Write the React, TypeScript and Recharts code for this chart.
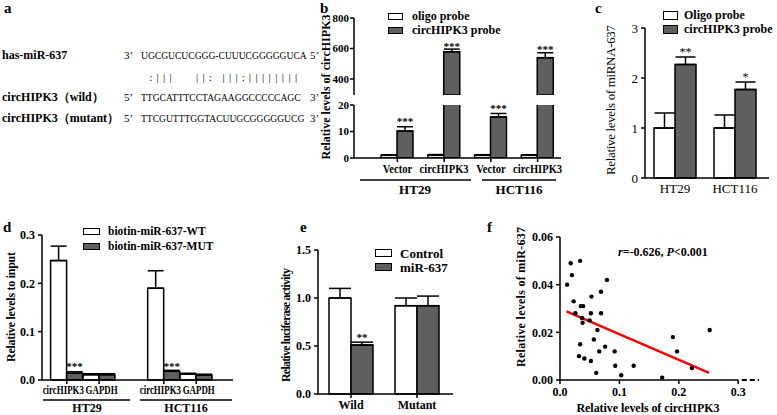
import React from 'react';
import {
  BarChart, Bar, XAxis, YAxis, ErrorBar, LabelList, Legend,
  ScatterChart, Scatter, ReferenceLine,
} from 'recharts';

const FONT = '"Liberation Serif", "Times New Roman", serif';
const GREY = '#5f5f5f';
const INK = '#000';

// a: sequence alignment
const MIR_SEQ = 'UGCGUCUCGGG-CUUUCGGGGGUCA';
const PAIRS = ' :|||   ||: |||:|||||||| ';
const WILD_SEQ = 'TTGCATTTCCTAGAAGGCCCCCAGC';
const MUT_SEQ = 'TTCGUTTTGGTACUUGCGGGGGUCG';

// b: pull-down, broken axis
const B_CATEGORIES = ['Vector', 'circHIPK3', 'Vector', 'circHIPK3'];
const B_OLIGO = [1, 1, 1, 1];
const B_OLIGO_ERR = [0.2, 0.3, 0.25, 0.2];
const B_PROBE = [10.2, 578, 15.5, 540];
const B_PROBE_ERR = [1.6, 18, 1.3, 32];
const B_STARS = ['***', '***', '***', '***'];
const B_BREAK = 295; // bottom of the upper axis segment
const B_LOW_MAX = 20;

// c
const C_GROUPS = ['HT29', 'HCT116'];
const C_OLIGO = [1, 1];
const C_OLIGO_ERR = [0.3, 0.26];
const C_PROBE = [2.27, 1.77];
const C_PROBE_ERR = [0.15, 0.15];
const C_STARS = ['**', '*'];

// d
const D_CATEGORIES = ['circHIPK3', 'GAPDH', '', 'circHIPK3', 'GAPDH'];
const D_WT = [0.247, 0.011, null, 0.19, 0.012];
const D_WT_ERR = [0.03, 0.002, null, 0.036, 0.002];
const D_MUT = [0.014, 0.011, null, 0.018, 0.01];
const D_MUT_ERR = [0.003, 0.002, null, 0.002, 0.002];
const D_STARS = ['***', '', '', '***', ''];

// e
const E_GROUPS = ['Wild', 'Mutant'];
const E_CONTROL = [1.0, 0.92];
const E_CONTROL_ERR = [0.1, 0.08];
const E_MIR = [0.51, 0.92];
const E_MIR_ERR = [0.03, 0.1];
const E_STARS = ['**', ''];

// f: correlation
const F_X = [0.012, 0.018, 0.02, 0.034, 0.023, 0.026, 0.035, 0.039, 0.037, 0.038, 0.053, 0.052,
  0.05, 0.069, 0.079, 0.069, 0.063, 0.057, 0.034, 0.076, 0.066, 0.092, 0.032, 0.041, 0.052,
  0.061, 0.093, 0.103, 0.124, 0.172, 0.19, 0.197, 0.222, 0.252];
const F_Y = [0.04, 0.049, 0.044, 0.05, 0.033, 0.028, 0.031, 0.031, 0.026, 0.024, 0.035, 0.028,
  0.025, 0.037, 0.042, 0.028, 0.021, 0.017, 0.015, 0.014, 0.012, 0.012, 0.01, 0.009, 0.008,
  0.003, 0.006, 0.002, 0.006, 0.001, 0.018, 0.012, 0.005, 0.021];
const F_FIT_X = [0.011, 0.251];
const F_FIT_Y = [0.0288, 0.003];

const bLowData = B_CATEGORIES.map((name, i) => ({
  name,
  oligo: B_OLIGO[i],
  probe: B_PROBE[i],
  oligoErr: [0, B_OLIGO_ERR[i]],
  probeErr: [0, B_PROBE_ERR[i]],
  stars: B_PROBE[i] > B_BREAK ? '' : B_STARS[i],
}));
// upper segment only shows what rises above the break
const bTopData = B_CATEGORIES.map((name, i) => {
  const up = B_PROBE[i] > B_BREAK;
  return {
    name,
    oligo: B_OLIGO[i] > B_BREAK ? B_OLIGO[i] : null,
    probe: up ? B_PROBE[i] : null,
    oligoErr: null,
    probeErr: up ? [0, B_PROBE_ERR[i]] : null,
    stars: up ? B_STARS[i] : '',
  };
});
const cData = C_GROUPS.map((name, i) => ({
  name, oligo: C_OLIGO[i], probe: C_PROBE[i],
  oligoErr: [0, C_OLIGO_ERR[i]], probeErr: [0, C_PROBE_ERR[i]], stars: C_STARS[i],
}));
const dData = D_CATEGORIES.map((name, i) => ({
  name, wt: D_WT[i], mut: D_MUT[i],
  wtErr: D_WT_ERR[i] == null ? null : [0, D_WT_ERR[i]],
  mutErr: D_MUT_ERR[i] == null ? null : [0, D_MUT_ERR[i]],
  stars: D_STARS[i],
}));
const eData = E_GROUPS.map((name, i) => ({
  name, control: E_CONTROL[i], mir: E_MIR[i],
  controlErr: [0, E_CONTROL_ERR[i]], mirErr: [0, E_MIR_ERR[i]], stars: E_STARS[i],
}));
const fData = F_X.map((x, i) => ({ x, y: F_Y[i] }));

// pixels per data unit, from the plot heights used below
const B_TOP_PPU = (95 - 18) / (800 - B_BREAK);
const B_LOW_PPU = (90 - 15 - 22) / B_LOW_MAX;
const C_PPU = (200 - 28 - 22) / 3;
const D_PPU = (200 - 35 - 20) / 0.3;
const E_PPU = (215 - 50 - 21) / 1.5;

const starLabel = (errs: (number | null)[], ppu: number, fs = 11, fw = 'bold') => (props: any) => {
  const vb = props.viewBox || props;
  const { value, index } = props;
  if (!value) return null;
  const err = errs[index] || 0;
  return (
    <text x={vb.x + vb.width / 2} y={vb.y - err * ppu - 1.5} textAnchor="middle"
      fontSize={fs} fontWeight={fw} fill={INK} fontFamily={FONT}>{value}</text>
  );
};

const CatTick = (props: any) => {
  const { x, y, payload, index, fs = 12, fw = 'bold', tl = 4, tg = 2, sx = 1, shifts } = props;
  if (!payload || !payload.value) return null;
  const dx = shifts ? shifts[index] || 0 : 0;
  return (
    <g>
      {tl > 0 && <line x1={x} x2={x} y1={y} y2={y + tl} stroke={INK} strokeWidth={1.5} />}
      <text x={0} y={y + tl + tg + fs * 0.78} textAnchor="middle" fontSize={fs}
        transform={`translate(${x + dx} 0) scale(${sx} 1)`}
        fontWeight={fw} fill={INK} fontFamily={FONT}>{payload.value}</text>
    </g>
  );
};

const Leg = (props: any) => {
  const { payload, bw, bh, rh, fs, gp, order } = props;
  const items = [...(payload || [])].sort(
    (a: any, b: any) => order.indexOf(a.value) - order.indexOf(b.value));
  return (
    <div style={{ fontFamily: FONT }}>
      {items.map((p: any) => (
        <div key={p.value} style={{ display: 'flex', alignItems: 'center', height: rh }}>
          <span style={{
            display: 'inline-block', width: bw, height: bh, background: p.color,
            border: '1.5px solid #000', boxSizing: 'border-box', marginRight: gp,
          }} />
          <span style={{ fontSize: fs, fontWeight: 'bold', color: INK, whiteSpace: 'nowrap', lineHeight: 1 }}>
            {p.value}
          </span>
        </div>
      ))}
    </div>
  );
};

const axisLine = { stroke: INK, strokeWidth: 1.5 };
const yTick = { fill: INK, fontSize: 12, fontWeight: 'bold', fontFamily: FONT };

const at = (left: number, top: number): React.CSSProperties => ({ position: 'absolute', left, top });

const SEQ_X = 141;
const SEQ_W = 165;
const SEQ_SX = 0.87; // the sequences are set in a narrow face

const SeqRow = ({ y, seq }: { y: number; seq: string }) => (
  <text x={0} y={y} fontSize={11} transform={`translate(${SEQ_X} 0) scale(${SEQ_SX} 1)`}>{seq}</text>
);

const Overlay = () => {
  const cw = SEQ_W / PAIRS.length;
  const rot = (x: number, y: number) => `rotate(-90 ${x} ${y})`;
  return (
    <svg width={777} height={415} style={{ position: 'absolute', left: 0, top: 0, pointerEvents: 'none' }}
      fontFamily={FONT} fill={INK}>
      {/* panel letters */}
      <g fontSize={15} fontWeight="bold">
        <text x={4} y={13}>a</text>
        <text x={320} y={13}>b</text>
        <text x={595} y={13}>c</text>
        <text x={3} y={232}>d</text>
        <text x={300} y={232}>e</text>
        <text x={487} y={232}>f</text>
      </g>

      {/* a */}
      <g fontSize={12} fontWeight="bold">
        <text x={2} y={59}>has-miR-637</text>
        <text x={2} y={101}>circHIPK3（wild）</text>
        <text x={2} y={122}>circHIPK3（mutant）</text>
      </g>
      <g fontSize={11}>
        <text x={124} y={59}>3’</text>
        <text x={124} y={101}>5’</text>
        <text x={124} y={122}>5’</text>
        <text x={SEQ_X + SEQ_W + 4} y={59}>5’</text>
        <text x={SEQ_X + SEQ_W + 4} y={101}>3’</text>
        <text x={SEQ_X + SEQ_W + 4} y={122}>3’</text>
        <SeqRow y={59} seq={MIR_SEQ} />
        <SeqRow y={101} seq={WILD_SEQ} />
        <SeqRow y={122} seq={MUT_SEQ} />
        {PAIRS.split('').map((ch, i) => (ch === ' ' ? null : (
          <text key={i} x={SEQ_X + (i + 0.5) * cw} y={81} textAnchor="middle">{ch}</text>
        )))}
      </g>

      {/* b */}
      <text x={327} y={87} transform={rot(327, 87)} textAnchor="middle" dominantBaseline="middle"
        fontSize={12} fontWeight="bold" textLength={145}>Relative levels of circHIPK3</text>
      <line x1={360} x2={471} y1={180} y2={180} stroke={INK} strokeWidth={1.5} />
      <line x1={482} x2={556} y1={180} y2={180} stroke={INK} strokeWidth={1.5} />
      <g fontSize={13} fontWeight="bold" textAnchor="middle">
        <text x={415} y={194}>HT29</text>
        <text x={519} y={194}>HCT116</text>
      </g>

      {/* c */}
      <text x={612} y={100} transform={rot(612, 100)} textAnchor="middle" dominantBaseline="middle"
        fontSize={13} textLength={150}>Relative levels of miRNA-637</text>

      {/* d */}
      <text x={12} y={307} transform={rot(12, 307)} textAnchor="middle" dominantBaseline="middle"
        fontSize={12} fontWeight="bold" textLength={110}>Relative levels to input</text>
      <line x1={43} x2={130} y1={400} y2={400} stroke={INK} strokeWidth={1.5} />
      <line x1={140} x2={232} y1={400} y2={400} stroke={INK} strokeWidth={1.5} />
      <g fontSize={12} fontWeight="bold" textAnchor="middle">
        <text x={87} y={412}>HT29</text>
        <text x={186} y={412}>HCT116</text>
      </g>

      {/* e */}
      <text x={287} y={325} transform={rot(287, 325)} textAnchor="middle" dominantBaseline="middle"
        fontSize={12} fontWeight="bold" textLength={114}>Relative luciferase activity</text>

      {/* f */}
      <text x={522} y={297} transform={rot(522, 297)} textAnchor="middle" dominantBaseline="middle"
        fontSize={12} fontWeight="bold" textLength={140}>Relative levels of miR-637</text>
      <text x={648} y={412} textAnchor="middle" fontSize={12} fontWeight="bold"
        textLength={143}>Relative levels of circHIPK3</text>
      <text x={618} y={256} fontSize={12} fontWeight="bold">
        <tspan fontStyle="italic">r</tspan>=-0.626, <tspan fontStyle="italic">P</tspan>{'<0.001'}
      </text>
    </svg>
  );
};

export default function App() {
  return (
    <div style={{
      position: 'absolute', left: 0, top: 0, width: 777, height: 415,
      background: '#fff', overflow: 'hidden', fontFamily: FONT,
    }}>
      {/* b: upper segment */}
      <div style={at(300, 0)}>
        <BarChart width={265} height={95} data={bTopData} barGap={0}
          margin={{ top: 18, right: 4, bottom: 0, left: 0 }}>
          <XAxis dataKey="name" hide padding={{ left: 20, right: 0 }} />
          <YAxis width={54} domain={[B_BREAK, 800]} ticks={[400, 600, 800]} allowDataOverflow
            axisLine={axisLine} tickLine={axisLine} tickSize={4} tickMargin={1}
            tick={{ ...yTick, fontSize: 11 }} />
          <Legend layout="vertical" verticalAlign="middle" align="center"
            wrapperStyle={{ left: 88, top: 9, width: 'auto' }}
            content={<Leg bw={15} bh={7} rh={14} fs={12} gp={9} order={['oligo probe', 'circHIPK3 probe']} />} />
          <Bar dataKey="oligo" name="oligo probe" fill="#fff" stroke={INK} strokeWidth={1.5}
            barSize={16} isAnimationActive={false}>
            <ErrorBar dataKey="oligoErr" width={8} stroke={INK} strokeWidth={1.5} direction="y" />
          </Bar>
          <Bar dataKey="probe" name="circHIPK3 probe" fill={GREY} stroke={INK} strokeWidth={1.5}
            barSize={16} isAnimationActive={false}>
            <ErrorBar dataKey="probeErr" width={8} stroke={INK} strokeWidth={1.5} direction="y" />
            <LabelList dataKey="stars" content={starLabel(B_PROBE_ERR, B_TOP_PPU)} />
          </Bar>
        </BarChart>
      </div>

      {/* b: lower segment */}
      <div style={at(300, 90)}>
        <BarChart width={265} height={90} data={bLowData} barGap={0}
          margin={{ top: 15, right: 4, bottom: 0, left: 0 }}>
          <XAxis dataKey="name" height={22} interval={0} padding={{ left: 20, right: 0 }}
            axisLine={axisLine} tickLine={false} tickSize={0} tickMargin={0}
            tick={<CatTick fs={12} tl={4} tg={2} sx={0.88} />} />
          <YAxis width={54} domain={[0, B_LOW_MAX]} ticks={[0, 10, 20]} allowDataOverflow
            axisLine={axisLine} tickLine={axisLine} tickSize={4} tickMargin={1}
            tick={{ ...yTick, fontSize: 11 }} />
          <Bar dataKey="oligo" fill="#fff" stroke={INK} strokeWidth={1.5}
            barSize={16} isAnimationActive={false}>
            <ErrorBar dataKey="oligoErr" width={8} stroke={INK} strokeWidth={1.5} direction="y" />
          </Bar>
          <Bar dataKey="probe" fill={GREY} stroke={INK} strokeWidth={1.5}
            barSize={16} isAnimationActive={false}>
            <ErrorBar dataKey="probeErr" width={8} stroke={INK} strokeWidth={1.5} direction="y" />
            <LabelList dataKey="stars" content={starLabel(B_PROBE_ERR, B_LOW_PPU)} />
          </Bar>
        </BarChart>
      </div>

      {/* c */}
      <div style={at(590, 0)}>
        <BarChart width={187} height={200} data={cData} barGap={0}
          margin={{ top: 28, right: 8, bottom: 0, left: 0 }}>
          <XAxis dataKey="name" height={22} interval={0} padding={{ left: 0, right: 4 }}
            axisLine={axisLine} tickLine={false} tickSize={0} tickMargin={0}
            tick={<CatTick fs={13} fw="normal" tl={0} tg={5} />} />
          <YAxis width={55} domain={[0, 3]} ticks={[0, 1, 2, 3]}
            axisLine={axisLine} tickLine={axisLine} tickSize={4} tickMargin={3}
            tick={{ ...yTick, fontSize: 13, fontWeight: 'normal' }} />
          <Legend layout="vertical" verticalAlign="middle" align="center"
            wrapperStyle={{ left: 73, top: 8, width: 'auto' }}
            content={<Leg bw={15} bh={9} rh={14} fs={12} gp={6} order={['Oligo probe', 'circHIPK3 probe']} />} />
          <Bar dataKey="oligo" name="Oligo probe" fill="#fff" stroke={INK} strokeWidth={1.5}
            barSize={21} isAnimationActive={false}>
            <ErrorBar dataKey="oligoErr" width={10} stroke={INK} strokeWidth={1.5} direction="y" />
          </Bar>
          <Bar dataKey="probe" name="circHIPK3 probe" fill={GREY} stroke={INK} strokeWidth={1.5}
            barSize={21} isAnimationActive={false}>
            <ErrorBar dataKey="probeErr" width={10} stroke={INK} strokeWidth={1.5} direction="y" />
            <LabelList dataKey="stars" content={starLabel(C_PROBE_ERR, C_PPU, 12, 'normal')} />
          </Bar>
        </BarChart>
      </div>

      {/* d */}
      <div style={at(0, 200)}>
        <BarChart width={240} height={200} data={dData} barGap={0}
          margin={{ top: 35, right: 7, bottom: 0, left: 0 }}>
          <XAxis dataKey="name" height={20} interval={0} padding={{ left: 8.6, right: 20.6 }}
            axisLine={axisLine} tickLine={false} tickSize={0} tickMargin={0}
            tick={<CatTick fs={12} tl={4} tg={1} sx={0.74} shifts={[-3.5, 2.5, 0, -3.5, 2.5]} />} />
          <YAxis width={42} domain={[0, 0.3]} ticks={[0, 0.1, 0.2, 0.3]}
            tickFormatter={(v: number) => v.toFixed(1)}
            axisLine={axisLine} tickLine={axisLine} tickSize={4} tickMargin={3} tick={yTick} />
          <Legend layout="vertical" verticalAlign="middle" align="center"
            wrapperStyle={{ left: 83, top: 24, width: 'auto' }}
            content={<Leg bw={17} bh={7} rh={15} fs={11.5} gp={8}
              order={['biotin-miR-637-WT', 'biotin-miR-637-MUT']} />} />
          <Bar dataKey="wt" name="biotin-miR-637-WT" fill="#fff" stroke={INK} strokeWidth={1.5}
            barSize={16} isAnimationActive={false}>
            <ErrorBar dataKey="wtErr" width={8} stroke={INK} strokeWidth={1.5} direction="y" />
          </Bar>
          <Bar dataKey="mut" name="biotin-miR-637-MUT" fill={GREY} stroke={INK} strokeWidth={1.5}
            barSize={16} isAnimationActive={false}>
            <ErrorBar dataKey="mutErr" width={8} stroke={INK} strokeWidth={1.5} direction="y" />
            <LabelList dataKey="stars" content={starLabel(D_MUT_ERR, D_PPU)} />
          </Bar>
        </BarChart>
      </div>

      {/* e */}
      <div style={at(260, 200)}>
        <BarChart width={200} height={215} data={eData} barGap={0}
          margin={{ top: 50, right: 7, bottom: 0, left: 0 }}>
          <XAxis dataKey="name" height={21} interval={0} padding={{ left: 0, right: 3 }}
            axisLine={axisLine} tickLine={false} tickSize={0} tickMargin={0}
            tick={<CatTick fs={12} tl={4} tg={2} />} />
          <YAxis width={58} domain={[0, 1.5]} ticks={[0, 0.5, 1, 1.5]}
            tickFormatter={(v: number) => v.toFixed(1)}
            axisLine={axisLine} tickLine={axisLine} tickSize={4} tickMargin={3} tick={yTick} />
          <Legend layout="vertical" verticalAlign="middle" align="center"
            wrapperStyle={{ left: 115, top: 46, width: 'auto' }}
            content={<Leg bw={17} bh={8} rh={14} fs={13} gp={8} order={['Control', 'miR-637']} />} />
          <Bar dataKey="control" name="Control" fill="#fff" stroke={INK} strokeWidth={1.5}
            barSize={22} isAnimationActive={false}>
            <ErrorBar dataKey="controlErr" width={11} stroke={INK} strokeWidth={1.5} direction="y" />
          </Bar>
          <Bar dataKey="mir" name="miR-637" fill={GREY} stroke={INK} strokeWidth={1.5}
            barSize={22} isAnimationActive={false}>
            <ErrorBar dataKey="mirErr" width={11} stroke={INK} strokeWidth={1.5} direction="y" />
            <LabelList dataKey="stars" content={starLabel(E_MIR_ERR, E_PPU)} />
          </Bar>
        </BarChart>
      </div>

      {/* f */}
      <div style={at(490, 200)}>
        <ScatterChart width={275} height={215} margin={{ top: 37, right: 6, bottom: 0, left: 0 }}>
          <XAxis type="number" dataKey="x" domain={[0, 0.335]} ticks={[0, 0.1, 0.2, 0.3]}
            tickFormatter={(v: number) => v.toFixed(1)} height={35}
            axisLine={false} tickLine={axisLine} tickSize={4} tickMargin={3} tick={yTick} />
          <YAxis type="number" dataKey="y" width={70} domain={[0, 0.06]} ticks={[0, 0.02, 0.04, 0.06]}
            tickFormatter={(v: number) => v.toFixed(2)}
            axisLine={axisLine} tickLine={axisLine} tickSize={4} tickMargin={3} tick={yTick} />
          <ReferenceLine segment={[{ x: 0, y: 0 }, { x: 0.3, y: 0 }]} stroke={INK} strokeWidth={1.5} />
          <ReferenceLine segment={[{ x: 0.306, y: 0 }, { x: 0.335, y: 0 }]} stroke={INK}
            strokeWidth={2} strokeDasharray="5 3" />
          <Scatter data={fData} fill={INK} isAnimationActive={false}
            shape={(p: any) => <circle cx={p.cx} cy={p.cy} r={2.2} fill={INK} />} />
          <ReferenceLine segment={[{ x: F_FIT_X[0], y: F_FIT_Y[0] }, { x: F_FIT_X[1], y: F_FIT_Y[1] }]}
            stroke="#f00" strokeWidth={2.5} />
        </ScatterChart>
      </div>

      <Overlay />
    </div>
  );
}
